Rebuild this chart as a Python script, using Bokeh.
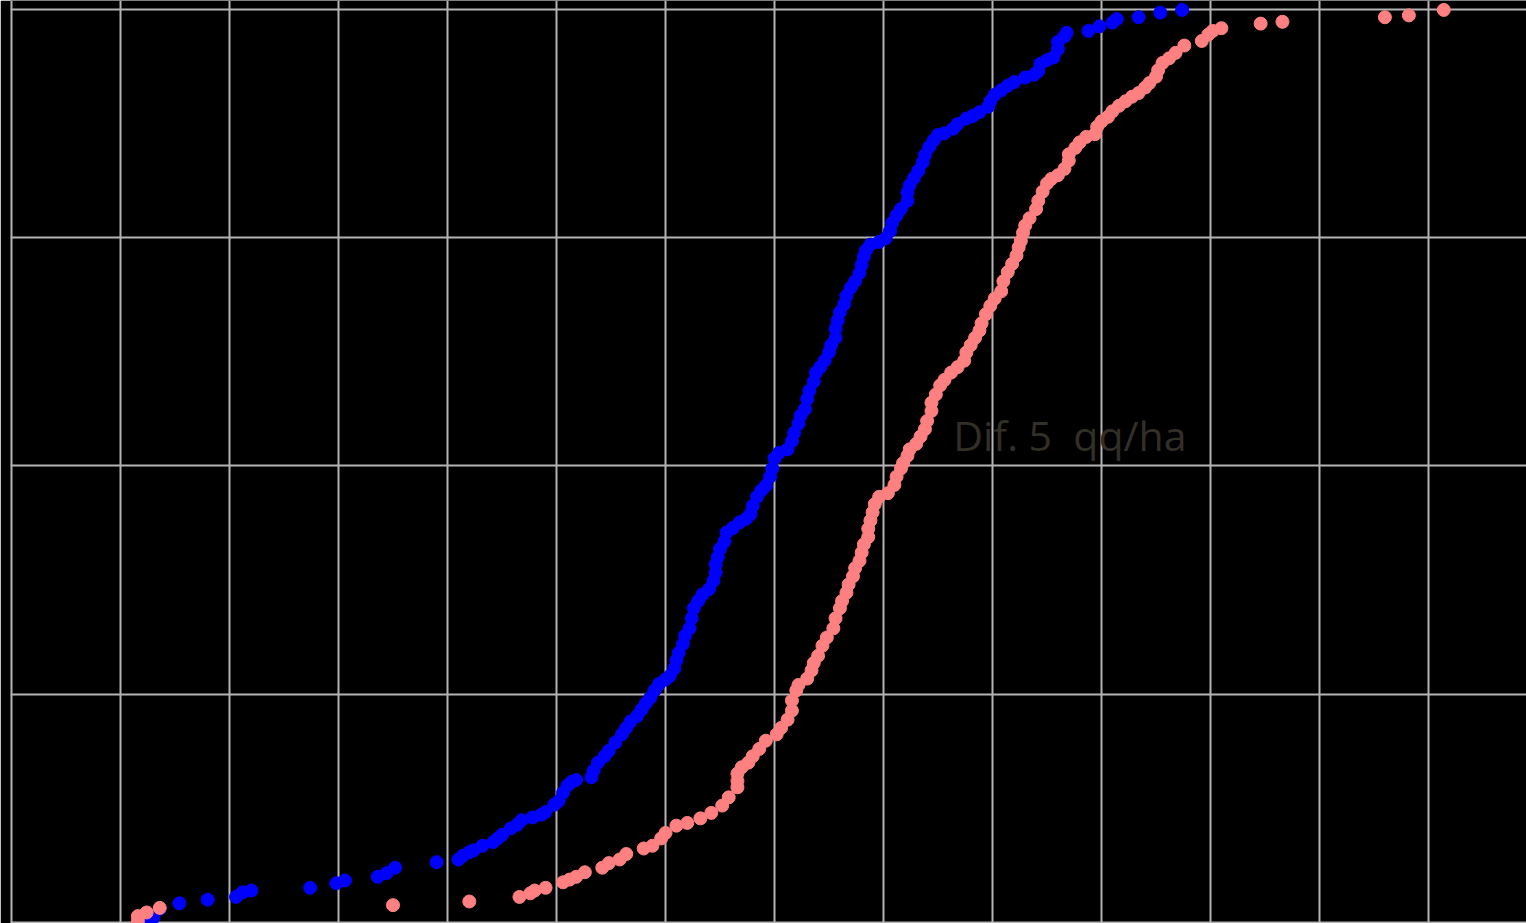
from bokeh.plotting import figure
from bokeh.models import SingleIntervalTicker, Range1d
from bokeh.core.properties import value
from bokeh.embed import file_html
from bokeh.resources import INLINE

# Rendimiento (qq/ha) y frecuencia acumulada (%) - serie azul
blue_yield = [26.3, 26.5, 26.8, 27.7, 29.0, 30.3, 30.6, 31.0, 33.7, 34.9, 35.3, 36.8, 37.2, 37.6, 39.5,
              40.5, 40.7, 41.0, 41.2, 41.6, 42.1, 42.3, 42.5, 42.9, 43.2, 43.4, 43.9, 44.3, 44.5, 44.9,
              45.1, 45.3, 45.5, 45.7, 45.9, 46.6, 46.7, 46.9, 47.2, 47.4, 47.7, 48.0, 48.2, 48.4, 48.7,
              48.9, 49.1, 49.3, 49.5, 49.7, 50.0, 50.2, 50.4, 50.5, 50.6, 50.8, 50.9, 51.1, 51.2, 51.3,
              51.5, 51.7, 52.0, 52.2, 52.3, 52.3, 52.4, 52.5, 52.7, 52.8, 53.1, 53.4, 53.7, 53.9, 54.0,
              54.2, 54.4, 54.6, 54.8, 54.9, 55.0, 55.2, 55.6, 55.8, 55.9, 56.1, 56.2, 56.4, 56.5, 56.6,
              56.8, 56.9, 57.1, 57.3, 57.5, 57.6, 57.8, 57.8, 57.9, 58.0, 58.2, 58.3, 58.5, 58.7, 58.9,
              59.0, 59.1, 59.2, 59.4, 59.8, 60.1, 60.3, 60.4, 60.6, 60.8, 61.1, 61.1, 61.2, 61.4, 61.6,
              61.8, 61.9, 62.1, 62.3, 62.5, 62.8, 63.2, 63.4, 63.8, 64.1, 64.4, 64.8, 64.9, 65.1, 65.4,
              65.7, 66.0, 66.5, 66.9, 67.1, 67.2, 67.5, 67.8, 68.0, 68.0, 68.3, 68.4, 69.4, 69.9, 70.5,
              70.7, 71.7, 72.7, 73.7]
blue_cum = [0.2, 0.5, 1.5, 2.1, 2.5, 2.8, 3.3, 3.5, 3.8, 4.3, 4.6, 5.0, 5.4, 6.0, 6.6,
            6.9, 7.3, 7.7, 7.9, 8.4, 8.8, 9.2, 9.6, 10.3, 10.7, 11.2, 11.5, 11.8, 12.1, 12.9,
            13.3, 14.2, 15.0, 15.4, 15.6, 15.9, 16.6, 17.5, 18.2, 18.8, 19.7, 20.6, 21.3, 22.0, 22.6,
            23.3, 24.0, 24.6, 25.4, 26.1, 26.6, 27.0, 27.8, 28.7, 29.5, 30.5, 31.4, 32.2, 33.3, 34.4,
            35.2, 35.9, 36.5, 37.4, 38.3, 39.2, 40.0, 40.9, 41.7, 42.7, 43.2, 43.8, 44.2, 44.7, 45.6,
            46.6, 47.3, 47.8, 48.8, 49.7, 50.8, 51.4, 51.8, 52.7, 53.6, 54.6, 55.5, 56.2, 57.3, 58.2,
            59.2, 60.2, 60.8, 61.5, 62.4, 63.2, 64.0, 65.0, 65.9, 66.8, 67.7, 68.6, 69.5, 70.2, 71.1,
            72.0, 72.9, 73.6, 74.2, 74.5, 74.9, 75.7, 76.6, 77.4, 78.1, 79.0, 79.9, 80.7, 81.5, 82.3,
            83.2, 84.0, 84.9, 85.6, 86.2, 86.4, 86.9, 87.4, 88.0, 88.3, 88.7, 89.3, 89.9, 90.6, 91.1,
            91.6, 92.0, 92.5, 92.8, 93.2, 94.0, 94.4, 94.7, 95.6, 96.4, 97.0, 97.4, 97.6, 98.1, 98.5,
            98.9, 99.1, 99.6, 99.9]

# Serie salmón
red_yield = [25.8, 25.8, 26.2, 26.8, 37.5, 41.0, 43.3, 43.8, 44.0, 44.5, 45.3, 45.6, 45.9, 46.3, 47.1,
             47.4, 47.9, 48.2, 49.0, 49.4, 49.8, 50.0, 50.5, 51.0, 51.6, 52.1, 52.6, 52.9, 53.3, 53.3,
             53.3, 53.5, 53.8, 54.0, 54.3, 54.6, 55.1, 55.3, 55.6, 55.8, 55.8, 56.0, 56.1, 56.5, 56.7,
             56.8, 57.0, 57.2, 57.4, 57.7, 57.8, 58.0, 58.1, 58.3, 58.4, 58.6, 58.7, 58.9, 59.0, 59.1,
             59.3, 59.3, 59.4, 59.5, 59.6, 59.8, 60.2, 60.5, 60.6, 60.8, 60.9, 61.1, 61.2, 61.5, 61.7,
             61.9, 62.0, 62.2, 62.2, 62.4, 62.6, 62.8, 63.1, 63.4, 63.7, 63.8, 64.0, 64.2, 64.4, 64.5,
             64.7, 64.9, 65.1, 65.4, 65.5, 65.7, 65.9, 66.1, 66.2, 66.3, 66.4, 66.5, 66.7, 67.0, 67.1,
             67.3, 67.5, 67.7, 68.0, 68.3, 68.5, 68.5, 68.8, 69.0, 69.3, 69.7, 69.8, 70.0, 70.3, 70.5,
             70.8, 71.1, 71.4, 71.7, 72.0, 72.2, 72.5, 72.6, 72.8, 73.1, 73.4, 73.8, 74.6, 74.9, 75.1,
             75.5, 77.3, 78.3, 83.0, 84.1, 85.7]
red_cum = [0.2, 0.7, 1.1, 1.6, 1.9, 2.3, 2.8, 3.2, 3.5, 3.8, 4.4, 4.7, 5.0, 5.5, 6.0,
           6.5, 6.9, 7.5, 8.1, 8.4, 9.2, 9.8, 10.6, 10.9, 11.4, 12.0, 12.8, 13.7, 14.8, 15.5,
           16.3, 17.0, 17.5, 18.2, 19.0, 19.9, 20.6, 21.3, 22.2, 23.2, 24.3, 25.4, 26.0, 26.7, 27.6,
           28.4, 29.2, 30.3, 31.2, 32.2, 33.3, 34.4, 35.2, 36.1, 37.0, 37.9, 38.8, 39.6, 40.5, 41.4,
           42.2, 43.1, 44.0, 44.9, 45.8, 46.6, 47.0, 47.9, 48.8, 49.7, 50.3, 51.1, 51.8, 52.4, 53.2,
           54.0, 54.9, 56.0, 56.9, 57.8, 58.8, 59.4, 60.2, 60.8, 61.5, 62.4, 63.2, 64.0, 64.8, 65.6,
           66.6, 67.5, 68.3, 69.1, 70.2, 71.2, 72.1, 73.0, 73.9, 74.6, 75.5, 76.3, 77.1, 78.1, 79.0,
           80.0, 80.9, 81.4, 81.8, 82.5, 83.4, 84.1, 84.8, 85.4, 86.0, 86.3, 87.1, 87.7, 88.2, 88.8,
           89.4, 89.9, 90.4, 90.8, 91.4, 91.9, 92.6, 93.3, 94.1, 94.6, 95.2, 96.0, 96.5, 97.2, 97.6,
           97.9, 98.4, 98.6, 99.1, 99.3, 99.9]

annotation = "Dif. 5\u00a0 qq/ha"

W, H = 1526, 923
LEFT = 10
px_x = 21.8    # pixels per qq/ha
px_y = 9.135   # pixels per %
x0 = 20 - 1 / px_x
y1 = 100 + 8.5 / px_y

p = figure(width=W, height=H, output_backend="svg", toolbar_location=None,
           x_range=Range1d(x0, x0 + (W - LEFT) / px_x), y_range=Range1d(y1 - H / px_y, y1),
           min_border=0, min_border_left=LEFT, min_border_right=0,
           min_border_top=0, min_border_bottom=0)
p.background_fill_color = "#000000"
p.border_fill_color = "#000000"
p.outline_line_color = None
p.axis.visible = False
p.xgrid.ticker = SingleIntervalTicker(interval=5)
p.ygrid.ticker = SingleIntervalTicker(interval=25)
p.grid.grid_line_color = "#b4b4b4"
p.grid.grid_line_width = 2

p.scatter(blue_yield, blue_cum, size=13, color="#0000ff")
p.scatter(red_yield, red_cum, size=13, color="#ff8080")

p.text(x=[63.2], y=[53.4], text=[annotation], text_font=value("Open Sans"),
       text_font_size="41px", text_color="#322e28", text_baseline="alphabetic")

open("out.html", "w").write(file_html(p, INLINE))
